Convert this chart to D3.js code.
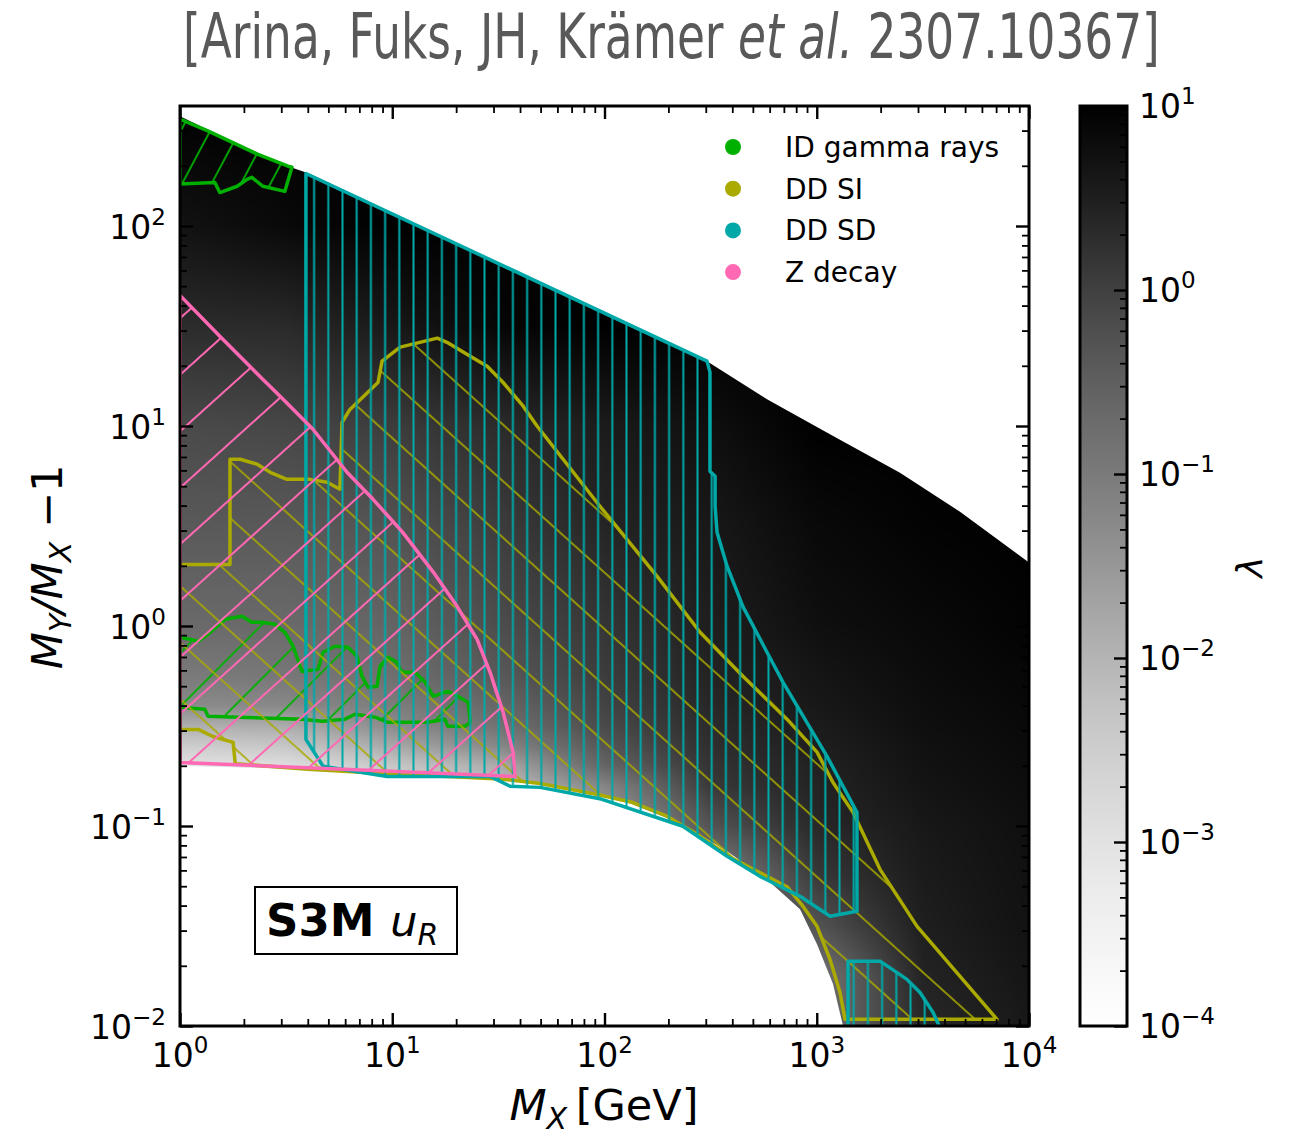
<!DOCTYPE html>
<html>
<head>
<meta charset="utf-8">
<script src="https://cdn.jsdelivr.net/npm/d3@7"></script>
<style>
  body { margin: 0; background: #fff; }
  text { font-family: 'DejaVu Sans', sans-serif; }
</style>
</head>
<body>
<svg id="chart"></svg>
<script>
// ---- data: [M_X (GeV), M_Y/M_X - 1] ----
const heatUpper = [[1, 354], [2.21, 236], [3.3, 197], [4.05, 183], [304, 21.1], [583, 13.6],
  [1154, 9.1], [2466, 5.84], [4730, 3.73], [10000, 2.08]];
const heatLower = [[1, 0.2], [3.68, 0.192], [10.9, 0.182], [32.2, 0.171], [61.7, 0.158],
  [118, 0.136], [234, 0.102], [378, 0.0748], [583, 0.054], [834, 0.0383], [1003, 0.0256],
  [1193, 0.0162], [1330, 0.01]];

// lambda grid (log10 lambda), columns = lamX, rows = lamY
const lamX = [1, 3.16, 10, 31.6, 100, 316, 1000, 3160, 10000];
const lamY = [400, 100, 31.6, 10, 3.16, 1, 0.56, 0.4, 0.316, 0.25, 0.2, 0.158, 0.1, 0.056, 0.0316, 0.0178, 0.01];
const logLambda = [
  [1.0, 0.7, 0.3, -0.15, -0.4, -0.7, -1.0, -1.3, -1.9, -2.5, -3.0, -3.0, -3.0, -3.0, -3.0, -3.0, -3.0],
  [1.0, 0.85, 0.32, -0.1, -0.4, -0.7, -0.95, -1.25, -1.85, -2.35, -2.9, -2.9, -2.9, -2.9, -2.9, -2.9, -2.9],
  [1.0, 1.0, 0.6, 0.05, -0.3, -0.6, -0.8, -1.05, -1.3, -1.8, -2.35, -2.6, -2.6, -2.6, -2.6, -2.6, -2.6],
  [1.0, 1.0, 0.9, 0.3, 0.05, -0.2, -0.4, -0.65, -0.85, -1.25, -1.85, -2.2, -2.2, -2.2, -2.2, -2.2, -2.2],
  [1.0, 1.0, 1.0, 0.55, 0.4, 0.15, 0.05, -0.05, -0.15, -0.35, -0.6, -1.2, -1.8, -1.8, -1.8, -1.8, -1.8],
  [1.0, 1.0, 1.0, 0.75, 0.6, 0.5, 0.42, 0.36, 0.3, 0.25, 0.18, 0.1, -0.3, -1.2, -1.2, -1.2, -1.2],
  [1.0, 1.0, 1.0, 1.0, 0.85, 0.75, 0.65, 0.6, 0.55, 0.5, 0.45, 0.42, 0.35, 0.1, -0.3, -0.9, -0.9],
  [1.0, 1.0, 1.0, 1.0, 0.95, 0.85, 0.8, 0.77, 0.75, 0.72, 0.7, 0.67, 0.6, 0.55, 0.5, 0.42, 0.35],
  [1.0, 1.0, 1.0, 1.0, 1.0, 0.95, 0.9, 0.87, 0.85, 0.83, 0.81, 0.79, 0.75, 0.72, 0.7, 0.65, 0.6]
];

// exclusion contours
const idTop = [[1, 342], [1.36, 298], [2.33, 228], [3.23, 199], [3.37, 197], [3.12, 149], [2.46, 158],
  [2.18, 175], [2.07, 171], [1.86, 158], [1.54, 147], [1.46, 165], [1, 162]];
const idLow = [[1, 0.88], [1.22, 0.839], [1.355, 0.909], [1.63, 1.08], [1.96, 1.118], [2.18, 1.043],
  [2.43, 1.043], [2.8, 1.02], [3.12, 0.93], [3.41, 0.792], [3.68, 0.629], [3.76, 0.593], [4.47, 0.607],
  [4.72, 0.739], [5.38, 0.792], [6.19, 0.782], [6.82, 0.706], [7.2, 0.561], [7.69, 0.494], [8.48, 0.5],
  [8.76, 0.629], [9.55, 0.697], [10.5, 0.658], [11.1, 0.587], [12.8, 0.587], [14.3, 0.523], [15.6, 0.445],
  [18.3, 0.472], [20.4, 0.445], [22.8, 0.415], [23.3, 0.33], [22.0, 0.315], [18.3, 0.315], [17.7, 0.342],
  [14.7, 0.33], [9.55, 0.33], [8.3, 0.35], [6.68, 0.362], [5.99, 0.342], [4.67, 0.334], [3.76, 0.342],
  [1.355, 0.354], [1.31, 0.383], [1, 0.392]];
const ddSI = [[1, 2.03], [1.72, 2.03], [1.72, 6.82], [1.92, 6.82], [2.31, 6.44], [2.66, 5.87], [3.19, 5.41],
  [4.1, 5.41], [4.93, 5.23], [5.67, 4.83], [5.8, 10.43], [6.32, 12.1], [8.57, 16.5], [8.95, 21.1],
  [10.9, 24.8], [16.3, 27.5], [18.1, 26.2], [23.3, 22.3], [28, 19.9], [33.3, 16.5], [41.3, 12.6],
  [48.1, 10.0], [95.2, 3.97], [177, 1.77], [282, 0.93], [449, 0.561], [724, 0.342], [1003, 0.234],
  [1193, 0.165], [1482, 0.117], [1986, 0.0607], [2968, 0.0315], [7066, 0.0108], [1359, 0.0108],
  [1287, 0.0147], [1155, 0.0215], [1003, 0.0315], [862, 0.0396], [724, 0.0497], [583, 0.056],
  [404, 0.0685], [282, 0.089], [197, 0.112], [136, 0.131], [95, 0.143], [49.7, 0.163], [32.2, 0.172],
  [9.05, 0.183], [4.0, 0.192], [1.82, 0.205], [1.78, 0.262], [1.42, 0.281], [1.22, 0.304], [1, 0.304]];
const ddSD = [[3.92, 183], [304, 21.1], [314, 18.6], [314, 5.94], [332, 5.61], [332, 3.97], [339, 2.94],
  [378, 1.99], [449, 1.25], [583, 0.739], [694, 0.523], [1118, 0.223], [1547, 0.117], [1547, 0.0375],
  [1155, 0.0354], [834, 0.0445], [540, 0.056], [378, 0.0705], [234, 0.0997], [95, 0.137], [49.7, 0.156],
  [35.9, 0.158], [28.9, 0.177], [9.45, 0.177], [4.72, 0.199], [3.92, 0.271]];
const ddSDHigh = [[1404, 0.0211], [1986, 0.0211], [2662, 0.0171], [3066, 0.0147], [3530, 0.0117],
  [3808, 0.0098], [1404, 0.0098]];
const zDecay = [[1, 45], [1.54, 28.1], [2.46, 17.1], [3.06, 13.6], [4.23, 9.63], [6.12, 5.87], [8.12, 4.3],
  [11.2, 2.94], [15.6, 1.86], [20.2, 1.254], [25.1, 0.858], [28.9, 0.587], [33.3, 0.37], [37.1, 0.234],
  [37.9, 0.177], [1, 0.208]];

const legendLabels = ['ID gamma rays', 'DD SI', 'DD SD', 'Z decay'];
const legendColours = ['#00b000', '#aaaa00', '#00a8a8', '#ff69b4'];

const xTicks = [1, 10, 100, 1000, 10000];
const yTicks = [0.01, 0.1, 1, 10, 100];
const cbTicks = [1e-4, 1e-3, 1e-2, 1e-1, 1, 10];

// ---- layout ----
const W = 1290, H = 1135;
const frame = { left: 180, right: 1029, top: 106, bottom: 1026 };
const cbBox = { left: 1080, right: 1127 };

const svg = d3.select('#chart').attr('width', W).attr('height', H);
svg.append('rect').attr('width', W).attr('height', H).attr('fill', '#fff');
const defs = svg.append('defs');

const x = d3.scaleLog().domain([1, 1e4]).range([frame.left, frame.right]);
const y = d3.scaleLog().domain([0.01, Math.pow(10, 2.6)]).range([frame.bottom, frame.top]);
const colour = d3.scaleSequential(d3.interpolateGreys).domain([-4, 1]);
const cb = d3.scaleLog().domain([1e-4, 10]).range([frame.bottom, frame.top]);

const line = d3.line().x(d => x(d[0])).y(d => y(d[1]));
const closed = pts => line(pts) + 'Z';

function minorTicks(d0, d1) {
  const out = [];
  for (let e = Math.floor(Math.log10(d0)); e < Math.ceil(Math.log10(d1)); e++) {
    for (let k = 2; k <= 9; k++) {
      const v = k * Math.pow(10, e);
      if (v >= d0 && v <= d1) out.push(v);
    }
  }
  return out;
}

defs.append('clipPath').attr('id', 'plotClip').append('rect')
  .attr('x', frame.left).attr('y', frame.top)
  .attr('width', frame.right - frame.left).attr('height', frame.bottom - frame.top);
const heatRegion = heatUpper.concat([[10000, 0.009], [1330, 0.009]], heatLower.slice().reverse());

// ---- heat map: grid shaded smoothly on a canvas, then placed as an image ----
const cw = frame.right - frame.left, ch = frame.bottom - frame.top;
const raw = document.createElement('canvas');
raw.width = cw; raw.height = ch;
const rctx = raw.getContext('2d');
const img = rctx.createImageData(cw, ch);
const lut = d3.range(1001).map(k => d3.rgb(colour(-4 + 5 * k / 1000)));
const gx = lamX.map(Math.log10), gyv = lamY.map(Math.log10);
const clamp = t => Math.max(0, Math.min(1, t));
for (let j = 0; j < ch; j++) {
  const ly = Math.log10(y.invert(frame.top + j + 0.5));
  let r = 0;
  while (r < gyv.length - 2 && ly < gyv[r + 1]) r++;
  const tr = clamp((gyv[r] - ly) / (gyv[r] - gyv[r + 1]));
  for (let i = 0; i < cw; i++) {
    const lx = Math.log10(x.invert(frame.left + i + 0.5));
    let c = 0;
    while (c < gx.length - 2 && lx > gx[c + 1]) c++;
    const tc = clamp((lx - gx[c]) / (gx[c + 1] - gx[c]));
    const L0 = logLambda[c], L1 = logLambda[c + 1];
    const v = (1 - tc) * ((1 - tr) * L0[r] + tr * L0[r + 1]) + tc * ((1 - tr) * L1[r] + tr * L1[r + 1]);
    const col = lut[Math.round(clamp((v + 4) / 5) * 1000)];
    const p = (j * cw + i) * 4;
    img.data[p] = col.r; img.data[p + 1] = col.g; img.data[p + 2] = col.b; img.data[p + 3] = 255;
  }
}
rctx.putImageData(img, 0, 0);
const out = document.createElement('canvas');
out.width = cw; out.height = ch;
const octx = out.getContext('2d');
octx.setTransform(1, 0, 0, 1, -frame.left, -frame.top);
octx.clip(new Path2D(closed(heatRegion)));
octx.setTransform(1, 0, 0, 1, 0, 0);
octx.drawImage(raw, 0, 0);

const plot = svg.append('g').attr('clip-path', 'url(#plotClip)');
plot.append('image').attr('x', frame.left).attr('y', frame.top)
  .attr('width', cw).attr('height', ch).attr('href', out.toDataURL());

// ---- hatched exclusion regions ----
function hatch(id, col, angle, gap, width, shift) {
  const p = defs.append('pattern').attr('id', id).attr('patternUnits', 'userSpaceOnUse')
    .attr('width', gap).attr('height', gap).attr('x', shift || 0)
    .attr('patternTransform', `rotate(${angle})`);
  p.append('line').attr('x1', gap / 2).attr('x2', gap / 2).attr('y1', -1).attr('y2', gap + 1)
    .attr('stroke', col).attr('stroke-width', width);
}
hatch('hIdTop', legendColours[0], 28, 26, 1.8);
hatch('hIdLow', legendColours[0], 45, 38, 1.8);
hatch('hSI', legendColours[1], -48, 42, 1.6);
hatch('hSD', legendColours[2], 0, 14.2, 2, -5.4);
hatch('hZ', legendColours[3], 48, 42, 2);

const regions = [
  { pts: idTop, pat: 'hIdTop', col: legendColours[0] },
  { pts: idLow, pat: 'hIdLow', col: legendColours[0] },
  { pts: ddSI, pat: 'hSI', col: legendColours[1] },
  { pts: ddSD, pat: 'hSD', col: legendColours[2] },
  { pts: ddSDHigh, pat: 'hSD', col: legendColours[2] },
  { pts: zDecay, pat: 'hZ', col: legendColours[3] }
];
plot.selectAll('path.region').data(regions).enter().append('path')
  .attr('class', 'region')
  .attr('d', d => closed(d.pts))
  .attr('fill', d => `url(#${d.pat})`)
  .attr('stroke', d => d.col)
  .attr('stroke-width', 3.5)
  .attr('stroke-linejoin', 'round');

// ---- axes (inward ticks on all sides) ----
function tickSet(gen, tr, major, minor) {
  const g = svg.append('g').attr('transform', tr);
  g.append('g').call(gen.tickValues(minor).tickSize(-7).tickFormat(''))
    .call(a => a.selectAll('line').attr('stroke-width', 1.8));
  g.append('g').call(gen.tickValues(major).tickSize(-13).tickFormat(''))
    .call(a => a.selectAll('line').attr('stroke-width', 2.4));
  g.selectAll('.domain').remove();
}
const xMinor = minorTicks(1, 1e4), yMinor = minorTicks(0.01, Math.pow(10, 2.6));
tickSet(d3.axisBottom(x), `translate(0,${frame.bottom})`, xTicks, xMinor);
tickSet(d3.axisTop(x), `translate(0,${frame.top})`, xTicks, xMinor);
tickSet(d3.axisLeft(y), `translate(${frame.left},0)`, yTicks, yMinor);
tickSet(d3.axisRight(y), `translate(${frame.right},0)`, yTicks, yMinor);

svg.append('rect').attr('x', frame.left).attr('y', frame.top)
  .attr('width', frame.right - frame.left).attr('height', frame.bottom - frame.top)
  .attr('fill', 'none').attr('stroke', '#000').attr('stroke-width', 3);

function powLabel(sel, v) {
  const e = Math.round(Math.log10(v));
  sel.append('tspan').text('10');
  sel.append('tspan').attr('font-size', 23).attr('dy', -14).text(e < 0 ? '\u2212' + (-e) : String(e));
}
xTicks.forEach(v => {
  svg.append('text').attr('x', x(v)).attr('y', frame.bottom + 41)
    .attr('text-anchor', 'middle').attr('font-size', 33).call(powLabel, v);
});
yTicks.forEach(v => {
  svg.append('text').attr('x', frame.left - 14).attr('y', y(v) + 13)
    .attr('text-anchor', 'end').attr('font-size', 33).call(powLabel, v);
});

// axis titles
const xt = svg.append('text').attr('x', 604).attr('y', 1120).attr('text-anchor', 'middle').attr('font-size', 43);
xt.append('tspan').attr('font-style', 'italic').text('M');
xt.append('tspan').attr('font-style', 'italic').attr('font-size', 30).attr('dy', 9).text('X');
xt.append('tspan').attr('dy', -9).text('\u2009[GeV]');

const yt = svg.append('text').attr('transform', 'translate(62,567) rotate(-90)')
  .attr('text-anchor', 'middle').attr('font-size', 43);
yt.append('tspan').attr('font-style', 'italic').text('M');
yt.append('tspan').attr('font-style', 'italic').attr('font-size', 30).attr('dy', 9).text('Y');
yt.append('tspan').attr('font-style', 'italic').attr('dy', -9).text('/M');
yt.append('tspan').attr('font-style', 'italic').attr('font-size', 30).attr('dy', 9).text('X');
yt.append('tspan').attr('dy', -9).text(' \u22121');

// ---- colour bar ----
const cbGrad = defs.append('linearGradient').attr('id', 'cbGrad')
  .attr('x1', 0).attr('x2', 0).attr('y1', 1).attr('y2', 0);
d3.range(0, 1.0001, 0.05).forEach(t => {
  cbGrad.append('stop').attr('offset', t).attr('stop-color', colour(-4 + 5 * t));
});
svg.append('rect').attr('x', cbBox.left).attr('y', frame.top)
  .attr('width', cbBox.right - cbBox.left).attr('height', frame.bottom - frame.top)
  .attr('fill', 'url(#cbGrad)');
tickSet(d3.axisRight(cb), `translate(${cbBox.right},0)`, cbTicks, minorTicks(1e-4, 10));
svg.append('rect').attr('x', cbBox.left).attr('y', frame.top)
  .attr('width', cbBox.right - cbBox.left).attr('height', frame.bottom - frame.top)
  .attr('fill', 'none').attr('stroke', '#000').attr('stroke-width', 3);
cbTicks.forEach(v => {
  svg.append('text').attr('x', cbBox.right + 12).attr('y', cb(v) + 12)
    .attr('font-size', 33).call(powLabel, v);
});
svg.append('text').attr('transform', 'translate(1262,567) rotate(-90)')
  .attr('text-anchor', 'middle').attr('font-size', 36).attr('font-style', 'italic').text('\u03bb');

// ---- legend ----
legendLabels.forEach((lab, i) => {
  const ly = 147 + i * 41.7;
  svg.append('circle').attr('cx', 733).attr('cy', ly).attr('r', 8).attr('fill', legendColours[i]);
  svg.append('text').attr('x', 785).attr('y', ly + 10).attr('font-size', 28).text(lab);
});

// ---- model label ----
svg.append('rect').attr('x', 255).attr('y', 887).attr('width', 202).attr('height', 67)
  .attr('fill', '#fff').attr('stroke', '#000').attr('stroke-width', 2);
const ml = svg.append('text').attr('x', 266).attr('y', 936).attr('font-size', 45);
ml.append('tspan').attr('font-weight', 'bold').text('S3M ');
ml.append('tspan').attr('font-style', 'italic').attr('font-size', 43).text('u');
ml.append('tspan').attr('font-style', 'italic').attr('font-size', 30).attr('dy', 9).text('R');

// ---- title (squeezed horizontally to the reference width) ----
const tt = svg.append('text').attr('x', 0).attr('y', 0)
  .attr('font-family', 'Lato, "Open Sans", sans-serif').attr('font-size', 62)
  .attr('fill', '#595959');
tt.append('tspan').text('[Arina, Fuks, JH, Krämer ');
tt.append('tspan').attr('font-style', 'italic').text('et al.');
tt.append('tspan').text(' 2307.10367]');
const tw = tt.node().getComputedTextLength();
tt.attr('transform', `translate(183,58) scale(${977 / tw},1)`);
</script>
</body>
</html>
